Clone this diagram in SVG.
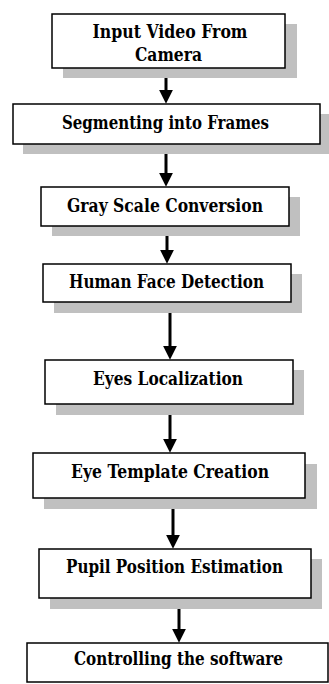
<svg xmlns="http://www.w3.org/2000/svg" width="329" height="684" viewBox="0 0 329 684">
<defs>
<style>
.sh{fill:#c0c0c0}
.bx{fill:#fff;stroke:#000;stroke-width:1.5}
.t{font-family:"DejaVu Serif","Liberation Serif",serif;font-weight:bold;font-size:18px;fill:#000;text-anchor:middle}
.ar{stroke:#000;stroke-width:3;fill:none;marker-end:url(#ah)}
</style>
<marker id="ah" markerUnits="userSpaceOnUse" markerWidth="14" markerHeight="14" viewBox="0 0 13 13" refX="4" refY="6.5" orient="auto">
<path d="M0,0 L13,6.5 L0,13 z" fill="#000"/>
</marker>
</defs>
<rect width="329" height="684" fill="#fff"/>
<g id="connectors">
<line class="ar" x1="166" y1="68" x2="166" y2="94"/>
<line class="ar" x1="166" y1="144" x2="166" y2="177"/>
<line class="ar" x1="167" y1="226" x2="167" y2="254"/>
<line class="ar" x1="170" y1="302" x2="170" y2="350"/>
<line class="ar" x1="170" y1="404" x2="170" y2="443"/>
<line class="ar" x1="173" y1="498" x2="173" y2="539"/>
<line class="ar" x1="179" y1="598" x2="179" y2="633"/>
</g>
<g id="n1">
<rect class="sh" x="63" y="24" width="234" height="54"/>
<rect class="bx" x="52" y="14" width="233" height="54"/>
<text class="t" x="170" y="38" textLength="155" lengthAdjust="spacingAndGlyphs">Input Video From</text>
<text class="t" x="168.5" y="61" textLength="67" lengthAdjust="spacingAndGlyphs">Camera</text>
</g>
<g id="n2">
<rect class="sh" x="23" y="114" width="306" height="40"/>
<rect class="bx" x="13" y="104" width="307" height="40"/>
<text class="t" x="165.5" y="129" textLength="207" lengthAdjust="spacingAndGlyphs">Segmenting into Frames</text>
</g>
<g id="n3">
<rect class="sh" x="52" y="197" width="248" height="39"/>
<rect class="bx" x="41" y="187" width="248" height="39"/>
<text class="t" x="165" y="212" textLength="196" lengthAdjust="spacingAndGlyphs">Gray Scale Conversion</text>
</g>
<g id="n4">
<rect class="sh" x="54" y="274" width="248" height="39"/>
<rect class="bx" x="43" y="264" width="248" height="38"/>
<text class="t" x="166.5" y="288" textLength="195" lengthAdjust="spacingAndGlyphs">Human Face Detection</text>
</g>
<g id="n5">
<rect class="sh" x="56" y="370" width="248" height="45"/>
<rect class="bx" x="45" y="360" width="248" height="44"/>
<text class="t" x="168" y="385" textLength="150" lengthAdjust="spacingAndGlyphs">Eyes Localization</text>
</g>
<g id="n6">
<rect class="sh" x="44" y="464" width="273" height="45"/>
<rect class="bx" x="33" y="453" width="272" height="45"/>
<text class="t" x="170" y="478" textLength="198" lengthAdjust="spacingAndGlyphs">Eye Template Creation</text>
</g>
<g id="n7">
<rect class="sh" x="50" y="559" width="272" height="50"/>
<rect class="bx" x="39" y="549" width="272" height="49"/>
<text class="t" x="174.5" y="573" textLength="217" lengthAdjust="spacingAndGlyphs">Pupil Position Estimation</text>
</g>
<g id="n8">
<rect class="bx" x="27" y="643" width="301" height="39"/>
<text class="t" x="178.5" y="665" textLength="209" lengthAdjust="spacingAndGlyphs">Controlling the software</text>
</g>
</svg>
